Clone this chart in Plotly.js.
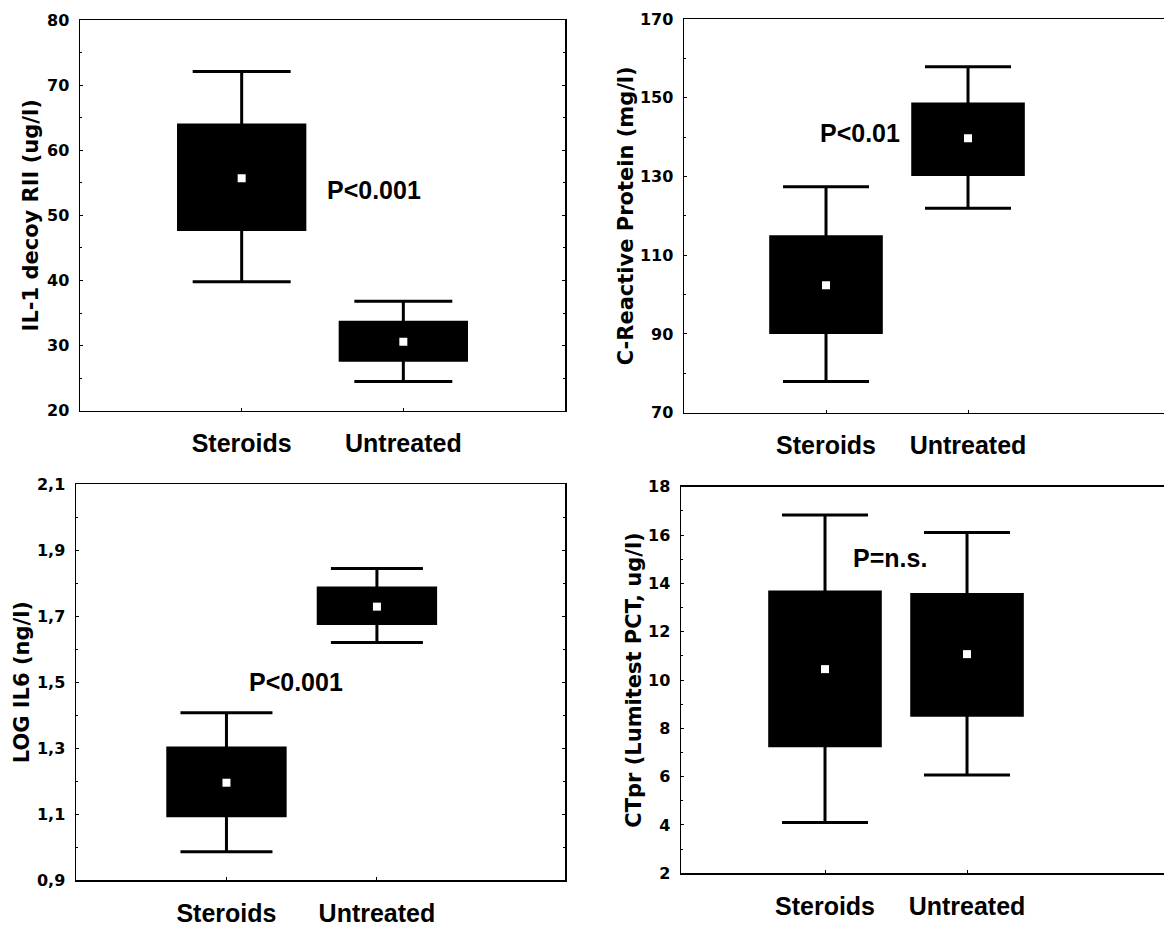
<!DOCTYPE html>
<html>
<head>
<meta charset="utf-8">
<script src="https://cdn.plot.ly/plotly-3.0.1.min.js"></script>
<style>html,body{margin:0;padding:0;background:#fff;}#chart{width:1164px;height:928px;}</style>
</head>
<body>
<div id="chart"></div>
<script>
// ---- data ----
const groups = ["Steroids", "Untreated"];

// IL-1 decoy RII (ug/l)
const il1WhiskerLow  = [39.8, 24.5];
const il1BoxLow      = [47.6, 27.5];
const il1Mean        = [55.7, 30.6];
const il1BoxHigh     = [64.1, 33.8];
const il1WhiskerHigh = [72.1, 36.8];

// C-Reactive Protein (mg/l)
const crpWhiskerLow  = [77.9, 121.9];
const crpBoxLow      = [90.0, 130.1];
const crpMean        = [102.4, 139.7];
const crpBoxHigh     = [115.1, 148.8];
const crpWhiskerHigh = [127.4, 157.9];

// LOG IL6 (ng/l)
const il6WhiskerLow  = [0.986, 1.62];
const il6BoxLow      = [1.09, 1.673];
const il6Mean        = [1.195, 1.729];
const il6BoxHigh     = [1.305, 1.79];
const il6WhiskerHigh = [1.407, 1.845];

// CTpr (Lumitest PCT, ug/l)
const pctWhiskerLow  = [4.1, 6.07];
const pctBoxLow      = [7.22, 8.48];
const pctMean        = [10.45, 11.07];
const pctBoxHigh     = [13.7, 13.6];
const pctWhiskerHigh = [16.83, 16.1];

const il1Ticks = [20, 30, 40, 50, 60, 70, 80];
const crpTicks = [70, 90, 110, 130, 150, 170];
const il6Ticks = [0.9, 1.1, 1.3, 1.5, 1.7, 1.9, 2.1];
const il6TickText = ["0,9", "1,1", "1,3", "1,5", "1,7", "1,9", "2,1"];
const pctTicks = [2, 4, 6, 8, 10, 12, 14, 16, 18];

const pLabels = ["P<0.001", "P<0.01", "P<0.001", "P=n.s."];
const yTitles = ["IL-1 decoy RII (ug/l)", "C-Reactive Protein (mg/l)", "LOG IL6 (ng/l)", "CTpr (Lumitest PCT, ug/l)"];

// ---- build traces ----
const FONT = "DejaVu Sans, Liberation Sans, Arial, sans-serif";
const FONT2 = "Liberation Sans, Arial, Helvetica, sans-serif";
function panel(idx, wl, bl, mn, bh, wh, capHalf) {
  const sfx = idx === 1 ? "" : String(idx);
  const bar = {
    type: "bar", x: groups, base: bl, y: bh.map((v, i) => v - bl[i]),
    width: 0.8, marker: {color: "#000", line: {width: 0}},
    xaxis: "x" + sfx, yaxis: "y" + sfx, hoverinfo: "skip", showlegend: false
  };
  const pts = {
    type: "scatter", mode: "markers", x: groups, y: mn,
    marker: {symbol: "square", size: 8, color: "#fff", line: {width: 0}},
    error_y: {type: "data", symmetric: false,
      array: wh.map((v, i) => v - mn[i]), arrayminus: mn.map((v, i) => v - wl[i]),
      color: "#000", thickness: 3, width: capHalf},
    xaxis: "x" + sfx, yaxis: "y" + sfx, showlegend: false
  };
  return [bar, pts];
}
const data = [].concat(
  panel(1, il1WhiskerLow, il1BoxLow, il1Mean, il1BoxHigh, il1WhiskerHigh, 49),
  panel(2, crpWhiskerLow, crpBoxLow, crpMean, crpBoxHigh, crpWhiskerHigh, 43),
  panel(3, il6WhiskerLow, il6BoxLow, il6Mean, il6BoxHigh, il6WhiskerHigh, 46),
  panel(4, pctWhiskerLow, pctBoxLow, pctMean, pctBoxHigh, pctWhiskerHigh, 43)
);

function xAx(domain, range, anchor, mirror) {
  return {
    domain: domain, range: range, anchor: anchor, type: "category",
    showline: true, linecolor: "#000", linewidth: 1.5, mirror: mirror,
    ticks: "inside", ticklen: 3, tickcolor: "#000",
    showgrid: false, zeroline: false, ticklabelstandoff: 10,
    tickfont: {family: FONT2, size: 25, color: "#000", weight: "bold"}
  };
}
function yAx(domain, range, anchor, ticks, text, minorD, title, standoff, mirror) {
  const a = {
    domain: domain, range: range, anchor: anchor,
    showline: true, linecolor: "#000", linewidth: 1.5, mirror: mirror,
    tickmode: "array", tickvals: ticks,
    ticks: "inside", ticklen: 3, tickcolor: "#000", ticklabelstandoff: 6,
    minor: {dtick: minorD, ticks: "inside", ticklen: 2, tickcolor: "#000"},
    showgrid: false, zeroline: false,
    tickfont: {family: FONT, size: 16, color: "#000", weight: "bold"},
    title: {text: title, standoff: standoff, font: {family: FONT, size: 21, color: "#000", weight: "bold"}}
  };
  if (text) a.ticktext = text;
  return a;
}

const W = 1164, H = 928;
const px = (a, b) => [a / W, Math.min(1, b / W)];
const py = (top, bottom) => [1 - bottom / H, 1 - top / H];

const layout = {
  width: W, height: H, margin: {l: 0, r: 0, t: 0, b: 0},
  paper_bgcolor: "#fff", plot_bgcolor: "#fff", showlegend: false,
  xaxis:  xAx(px(80, 565), [-1, 2], "y", true),
  yaxis:  yAx(py(20, 410.7), [20, 80], "x", il1Ticks, null, 5, yTitles[0], 2, "ticks"),
  xaxis2: xAx(px(684, 1164), [-1, 2.38], "y2", true),
  yaxis2: yAx(py(19, 412.7), [70, 170], "x2", crpTicks, null, 10, yTitles[1], 0, false),
  xaxis3: xAx(px(76, 565), [-1, 2.25], "y3", true),
  yaxis3: yAx(py(484.3, 880), [0.9, 2.1], "x3", il6Ticks, il6TickText, 0.1, yTitles[2], 1, "ticks"),
  xaxis4: xAx(px(681, 1164), [-1.014, 2.387], "y4", true),
  yaxis4: yAx(py(486.7, 873.3), [2, 18], "x4", pctTicks, null, 1, yTitles[3], 0, false),
  annotations: [
    {text: pLabels[0], x: 0.818, y: 53.9, xref: "x", yref: "y"},
    {text: pLabels[1], x: 0.239, y: 141, xref: "x2", yref: "y2"},
    {text: pLabels[2], x: 0.462, y: 1.5, xref: "x3", yref: "y3"},
    {text: pLabels[3], x: 0.458, y: 15.05, xref: "x4", yref: "y4"}
  ].map(a => Object.assign(a, {showarrow: false, xanchor: "center", yanchor: "middle",
      font: {family: FONT2, size: 25, color: "#000", weight: "bold"}}))
};

Plotly.newPlot("chart", data, layout, {staticPlot: true, displayModeBar: false});
</script>
</body>
</html>
